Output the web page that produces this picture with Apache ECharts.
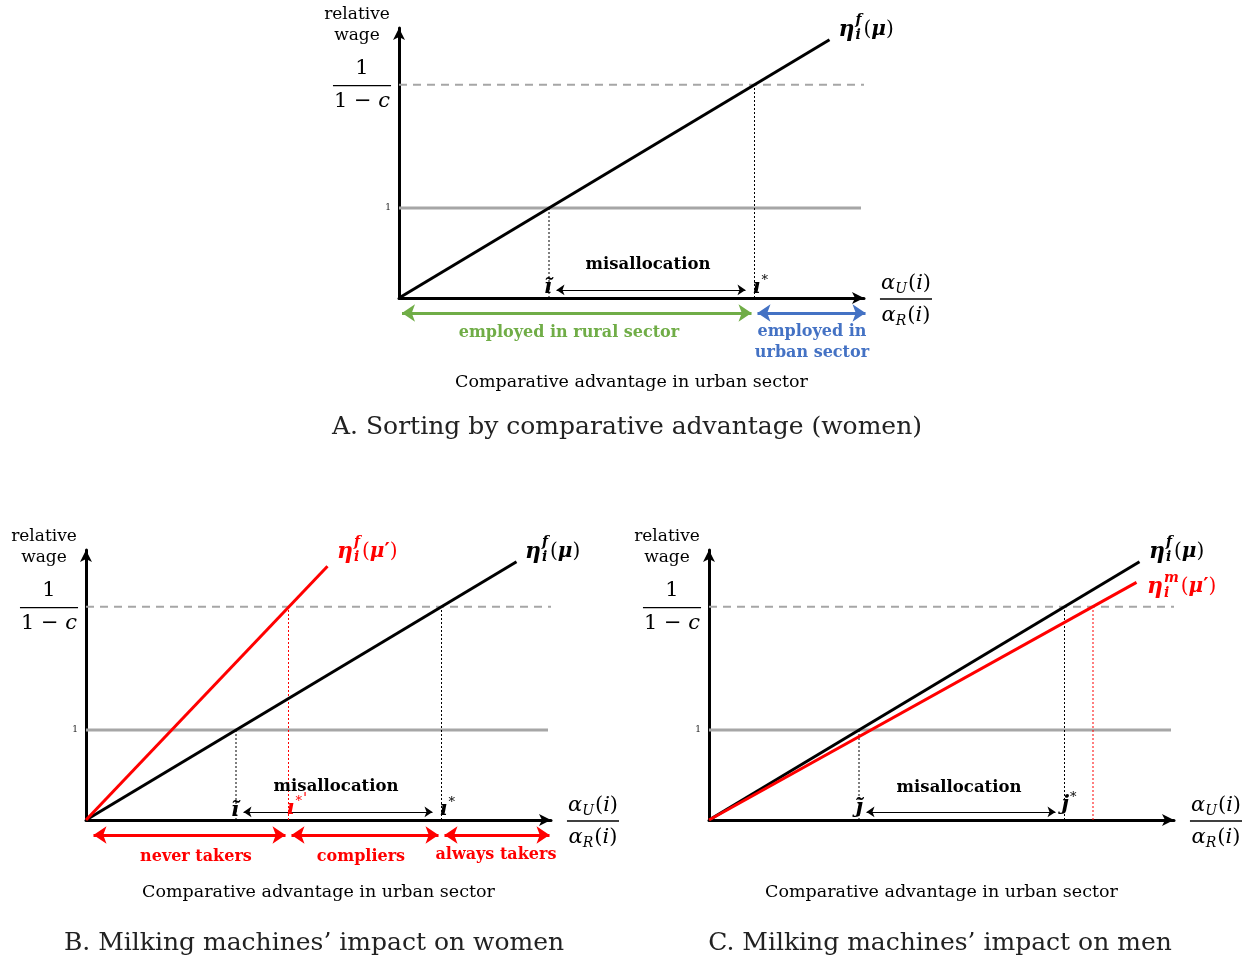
<!DOCTYPE html>
<html>
<head>
<meta charset="utf-8">
<script src="https://cdn.jsdelivr.net/npm/echarts@6/dist/echarts.min.js"></script>
<style>
  html, body { margin: 0; padding: 0; background: #fff; }
  #chart { width: 1255px; height: 963px; }
</style>
</head>
<body>
<div id="chart"></div>
<script>
// ---- values ----
const wageOne = 1;          // relative wage = 1
const wageCap = 2.37;       // relative wage = 1/(1-c)
const xMax = 3.1;           // comparative advantage axis extent
const yMax = 3;             // relative wage axis extent
const yTicks = [1];         // the only numbered tick on the wage axis

// lines (comparative advantage, relative wage)
const etaWomen = [[0, 0], [2.87, 2.87]];        // η_i^f(μ)
const etaWomenPrime = [[0, 0], [1.61, 2.82]];   // η_i^f(μ')
const etaMenPrime = [[0, 0], [2.85, 2.64]];     // η_i^m(μ')

// thresholds on the comparative advantage axis
const iTilde = 1;        // η_i^f(μ) = 1
const iStar = 2.37;      // η_i^f(μ) = 1/(1-c)
const iStarPrime = 1.35; // η_i^f(μ') = 1/(1-c)
const jTilde = 1;
const jStar = 2.37;
const jStarPrime = 2.56; // η_i^m(μ') = 1/(1-c)

// ---- styling ----
const SERIF = '"DejaVu Serif", serif';
const BLACK = '#000000', RED = '#ff0000', GRAY = '#a6a6a6', GREEN = '#70ad47', BLUE = '#4472c4';

const grids = [
  { left: 399, top: 28, width: 465, height: 270 },   // A
  { left: 86, top: 550, width: 465, height: 270 },   // B
  { left: 709, top: 550, width: 465, height: 270 }   // C
];

const axisLine = {
  show: true, onZero: false, symbol: ['none', 'arrow'], symbolSize: [9, 12],
  lineStyle: { color: BLACK, width: 3 }
};

const xAxes = grids.map((g, i) => ({
  type: 'value', gridIndex: i, min: 0, max: xMax,
  axisLine, axisTick: { show: false }, axisLabel: { show: false }, splitLine: { show: false }
}));
const yAxes = grids.map((g, i) => ({
  type: 'value', gridIndex: i, min: 0, max: yMax, interval: 1,
  axisLine, axisTick: { show: false }, splitLine: { show: false },
  axisLabel: {
    formatter: v => (yTicks.includes(v) ? String(v) : ''),
    fontSize: 9, fontFamily: SERIF, color: '#222', margin: 8
  }
}));

function seg(g, pts, color, width, type, z) {
  return {
    type: 'line', xAxisIndex: g, yAxisIndex: g, data: pts, symbol: 'none',
    silent: true, clip: false, animation: false, z: z || 2,
    lineStyle: { color, width, type: type || 'solid' }
  };
}
function dblArrow(g, from, to, color, width, size) {
  return {
    type: 'lines', coordinateSystem: 'cartesian2d', xAxisIndex: g, yAxisIndex: g,
    data: [{ coords: [from, to] }], symbol: ['arrow', 'arrow'], symbolSize: size,
    lineStyle: { color, width, opacity: 1, curveness: 0 }, itemStyle: { color },
    silent: true, animation: false, clip: false, z: 4
  };
}

const dot = [2, 2];
const series = [];
for (let g = 0; g < 3; g++) {
  series.push(seg(g, [[0, wageOne], [3.08, wageOne]], GRAY, 3));
  series.push(seg(g, [[0, wageCap], [xMax, wageCap]], GRAY, 2, [8, 6]));
}
// A. sorting (women)
series.push(seg(0, [[iTilde, 0], [iTilde, wageOne]], BLACK, 1, dot));
series.push(seg(0, [[iStar, 0], [iStar, wageCap]], BLACK, 1, dot));
series.push(seg(0, etaWomen, BLACK, 3, 'solid', 3));
series.push(dblArrow(0, [1.05, 0.09], [2.31, 0.09], BLACK, 1.2, 8));
series.push(dblArrow(0, [0.02, -0.167], [iStar - 0.02, -0.167], GREEN, 3, 13));
series.push(dblArrow(0, [iStar + 0.02, -0.167], [3.11, -0.167], BLUE, 3, 13));
// B. women after the shift
series.push(seg(1, [[iTilde, 0], [iTilde, wageOne]], BLACK, 1, dot));
series.push(seg(1, [[iStarPrime, 0], [iStarPrime, wageCap]], RED, 1, dot));
series.push(seg(1, [[iStar, 0], [iStar, wageCap]], BLACK, 1, dot));
series.push(seg(1, etaWomen, BLACK, 3, 'solid', 3));
series.push(seg(1, etaWomenPrime, RED, 3, 'solid', 3));
series.push(dblArrow(1, [1.05, 0.09], [2.31, 0.09], BLACK, 1.2, 8));
series.push(dblArrow(1, [0.05, -0.167], [iStarPrime - 0.02, -0.167], RED, 3, 13));
series.push(dblArrow(1, [iStarPrime + 0.02, -0.167], [iStar - 0.02, -0.167], RED, 3, 13));
series.push(dblArrow(1, [iStar + 0.02, -0.167], [3.09, -0.167], RED, 3, 13));
// C. men after the shift
series.push(seg(2, [[jTilde, 0], [jTilde, wageOne]], BLACK, 1, dot));
series.push(seg(2, [[jStar, 0], [jStar, wageCap]], BLACK, 1, dot));
series.push(seg(2, [[jStarPrime, 0], [jStarPrime, wageCap]], RED, 1, dot));
series.push(seg(2, etaWomen, BLACK, 3, 'solid', 3));
series.push(seg(2, etaMenPrime, RED, 3, 'solid', 3));
series.push(dblArrow(2, [1.05, 0.09], [2.31, 0.09], BLACK, 1.2, 8));

const chart = echarts.init(document.getElementById('chart'));
chart.setOption({
  backgroundColor: '#fff',
  animation: false,
  grid: grids,
  xAxis: xAxes,
  yAxis: yAxes,
  series
});

// ---- text layout ----
const ctx = document.createElement('canvas').getContext('2d');
function fontOf(p) {
  return (p.it ? 'italic ' : '') + (p.b ? 'bold ' : '') + p.s + 'px ' + SERIF;
}
function measure(text, font) { ctx.font = font; return ctx.measureText(text).width; }

// a row of text pieces; pieces with stack:true share the x of the previous one (sub/sup pairs)
function run(pieces, X, Y, align, color) {
  let cx = 0, prevX = 0, prevW = 0;
  const laid = pieces.map(p => {
    const font = fontOf(p);
    const w = measure(p.t, font);
    const x0 = p.stack ? prevX : cx + (p.kern || 0);
    cx = p.stack ? prevX + Math.max(prevW, w) : x0 + w;
    prevX = x0; prevW = w;
    return { p, font, x0, w };
  });
  const total = cx;
  const shift = align === 'center' ? -total / 2 : align === 'right' ? -total : 0;
  const els = laid.map(({ p, font, x0 }) => ({
    type: 'text', x: X + shift + x0, y: Y + (p.dy || 0), silent: true, z: 10,
    style: {
      text: p.t, font, fill: p.c || color || BLACK,
      textAlign: 'left', textVerticalAlign: 'middle', align: 'left', verticalAlign: 'middle'
    }
  }));
  return { els, width: total };
}
function plain(text, X, Y, size, opts) {
  opts = opts || {};
  return {
    type: 'text', x: X, y: Y, silent: true, z: 10,
    style: {
      text, font: (opts.b ? 'bold ' : '') + size + 'px ' + SERIF, fill: opts.c || BLACK,
      textAlign: opts.align || 'center', textVerticalAlign: 'middle',
      align: opts.align || 'center', verticalAlign: 'middle', lineHeight: opts.lh || size * 1.25
    }
  };
}
function fraction(num, den, X, Y, up, down, barPad) {
  const a = run(num, X, Y - up, 'center');
  const b = run(den, X, Y + down, 'center');
  const half = Math.max(a.width, b.width) / 2 + barPad;
  return a.els.concat(b.els, [{
    type: 'line', silent: true, z: 10,
    shape: { x1: X - half, y1: Y, x2: X + half, y2: Y },
    style: { stroke: BLACK, lineWidth: 1.3 }
  }]);
}
const P = (g, x, y) => chart.convertToPixel({ gridIndex: g }, [x, y]);

const etaLabel = (sup, prime) => [
  { t: 'η', s: 22, b: 1, it: 1 },
  { t: sup, s: 14, b: 1, it: 1, dy: -9, kern: 1 },
  { t: 'i', s: 14, b: 1, it: 1, dy: 6, stack: 1 },
  { t: '(', s: 20, kern: 2 },
  { t: 'μ', s: 20, b: 1, it: 1 },
  ...(prime ? [{ t: '′', s: 20, b: 1 }] : []),
  { t: ')', s: 20 }
];
const alphaNum = (sub) => [
  { t: 'α', s: 21, it: 1 },
  { t: sub, s: 14, it: 1, dy: 5 },
  { t: '(', s: 21, kern: 1 },
  { t: 'i', s: 21, it: 1 },
  { t: ')', s: 21 }
];
const starred = (base, marks) => [
  { t: base, s: 21, b: 1, it: 1 },
  ...marks.map(m => ({ t: m, s: m === "'" ? 15 : 13, it: m === "'" ? 1 : 0, dy: m === "'" ? -9 : -7, kern: 1 }))
];

const LBL = 16;      // bold annotation size
const MIS = 16.5;    // "misallocation"
const SUB = 17.5;    // axis caption
const CAP = 25;      // panel caption

const graphics = [];
grids.forEach((gr, g) => {
  const right = gr.left + gr.width;
  const bottom = gr.top + gr.height;
  const capY = P(g, 0, wageCap)[1];
  // wage axis title and the 1/(1-c) level
  graphics.push(plain('relative\nwage', gr.left - 42, gr.top - 3, 17, { lh: 21 }));
  graphics.push(...fraction(
    [{ t: '1', s: 21 }],
    [{ t: '1 − ', s: 21 }, { t: 'c', s: 21, it: 1 }],
    gr.left - 37, capY + 1, 17, 16, 1));
  // comparative advantage axis label
  graphics.push(...fraction(alphaNum('U'), alphaNum('R'), right + 42, bottom + 1, 15, 17, 1));
});

// A
{
  const g = 0;
  let p = P(g, 2.93, 2.98); graphics.push(...run(etaLabel('f', false), p[0], p[1], 'left').els);
  p = P(g, 1.66, 0.367); graphics.push(plain('misallocation', p[0], p[1], MIS, { b: 1 }));
  p = P(g, iTilde, 0.12); graphics.push(...run([{ t: 'ĩ', s: 21, b: 1, it: 1 }], p[0] - 1, p[1], 'center').els);
  p = P(g, iStar, 0.12); graphics.push(...run(starred('ı', ['*']), p[0] - 2, p[1], 'left').els);
  p = P(g, 1.133, -0.389); graphics.push(plain('employed in rural sector', p[0], p[1], LBL, { b: 1, c: GREEN }));
  p = P(g, 2.753, -0.495); graphics.push(plain('employed in\nurban sector', p[0], p[1], LBL, { b: 1, c: BLUE, lh: 21 }));
  graphics.push(plain('Comparative advantage in urban sector', grids[g].left + grids[g].width / 2, 382, SUB));
  graphics.push(plain('A. Sorting by comparative advantage (women)', 627, 427, CAP, { c: '#222' }));
}
// B
{
  const g = 1;
  let p = P(g, 1.673, 2.98); graphics.push(...run(etaLabel('f', true), p[0], p[1], 'left', RED).els);
  p = P(g, 2.927, 2.98); graphics.push(...run(etaLabel('f', false), p[0], p[1], 'left').els);
  p = P(g, 1.667, 0.367); graphics.push(plain('misallocation', p[0], p[1], MIS, { b: 1 }));
  p = P(g, iTilde, 0.1); graphics.push(...run([{ t: 'ĩ', s: 21, b: 1, it: 1 }], p[0] - 1, p[1], 'center').els);
  p = P(g, iStarPrime, 0.13); graphics.push(...run(starred('ı', ['*', "'"]), p[0] - 2, p[1], 'left', RED).els);
  p = P(g, iStar, 0.12); graphics.push(...run(starred('ı', ['*']), p[0] - 2, p[1], 'left').els);
  p = P(g, 0.733, -0.411); graphics.push(plain('never takers', p[0], p[1], LBL, { b: 1, c: RED }));
  p = P(g, 1.833, -0.411); graphics.push(plain('compliers', p[0], p[1], LBL, { b: 1, c: RED }));
  p = P(g, 2.733, -0.39); graphics.push(plain('always takers', p[0], p[1], LBL, { b: 1, c: RED }));
  graphics.push(plain('Comparative advantage in urban sector', grids[g].left + grids[g].width / 2, 892, SUB));
  graphics.push(plain('B. Milking machines’ impact on women', 314, 943, CAP, { c: '#222' }));
}
// C
{
  const g = 2;
  let p = P(g, 2.933, 2.98); graphics.push(...run(etaLabel('f', false), p[0], p[1], 'left').els);
  p = P(g, 2.92, 2.59); graphics.push(...run(etaLabel('m', true), p[0], p[1], 'left', RED).els);
  p = P(g, 1.667, 0.356); graphics.push(plain('misallocation', p[0], p[1], MIS, { b: 1 }));
  p = P(g, jTilde, 0.14); graphics.push(...run([{ t: 'ȷ̃', s: 21, b: 1, it: 1 }], p[0], p[1], 'center').els);
  p = P(g, jStar, 0.17); graphics.push(...run(starred('j', ['*']), p[0] - 3, p[1], 'left').els);
  graphics.push(plain('Comparative advantage in urban sector', grids[g].left + grids[g].width / 2, 892, SUB));
  graphics.push(plain('C. Milking machines’ impact on men', 940, 943, CAP, { c: '#222' }));
}

chart.setOption({ graphic: graphics });
</script>
</body>
</html>
